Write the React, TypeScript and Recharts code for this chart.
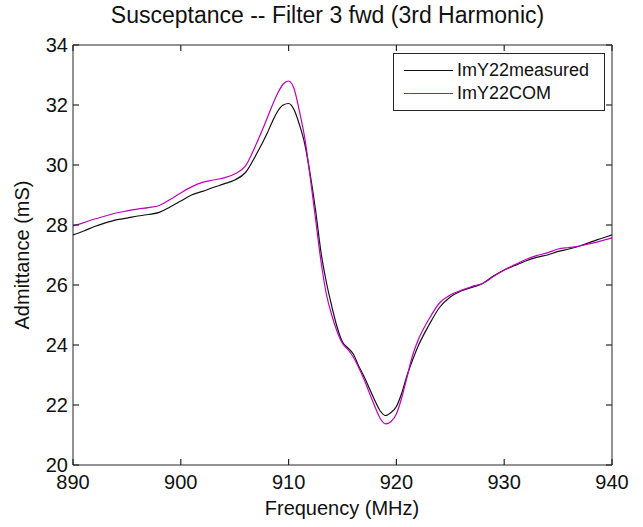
import React from 'react';
import { LineChart, Line, XAxis, YAxis, Legend } from 'recharts';

const freqs = [
  890, 891, 892, 893, 894, 895, 896, 897, 898, 899, 900, 901, 902, 903, 904, 905, 906, 907, 908,
  908.5, 909, 909.5, 910, 910.5, 911, 911.5, 912, 912.5, 913, 913.5, 914, 914.5, 915, 915.5, 916,
  916.5, 917, 917.5, 918, 918.5, 919, 919.5, 920, 920.5, 921, 921.5, 922, 923, 924, 925, 926, 927,
  928, 929, 930, 931, 932, 933, 934, 935, 936, 937, 938, 939, 940,
];

const measured = [
  27.67, 27.8, 27.95, 28.07, 28.17, 28.23, 28.3, 28.35, 28.42, 28.6, 28.8, 29.0, 29.12, 29.25, 29.37,
  29.5, 29.75, 30.35, 31.05, 31.45, 31.8, 32.0, 32.05, 31.85, 31.35, 30.7, 29.7, 28.5, 27.1, 26.1,
  25.3, 24.6, 24.1, 23.9, 23.7, 23.3, 22.95, 22.55, 22.15, 21.8, 21.65, 21.75, 21.95, 22.4, 23.0,
  23.5, 23.95, 24.65, 25.25, 25.6, 25.8, 25.92, 26.05, 26.3, 26.5, 26.65, 26.8, 26.92, 27.0, 27.12,
  27.2, 27.3, 27.43, 27.55, 27.67,
];

const com = [
  27.97, 28.08, 28.2, 28.3, 28.4, 28.47, 28.53, 28.58, 28.65, 28.85, 29.07, 29.27, 29.42, 29.5,
  29.57, 29.7, 29.97, 30.7, 31.55, 32.0, 32.4, 32.7, 32.8, 32.55, 31.8, 30.9, 29.6, 28.2, 26.8, 25.7,
  25.0, 24.45, 24.05, 23.85, 23.6, 23.25, 22.85, 22.4, 21.95, 21.55, 21.37, 21.45, 21.7, 22.25,
  22.95, 23.65, 24.15, 24.85, 25.4, 25.67, 25.82, 25.95, 26.05, 26.28, 26.5, 26.68, 26.85, 26.98,
  27.07, 27.2, 27.25, 27.3, 27.38, 27.47, 27.57,
];

const xTicks = [890, 900, 910, 920, 930, 940];
const yTicks = [20, 22, 24, 26, 28, 30, 32, 34];

const seriesNames = ['ImY22measured', 'ImY22COM'];
const seriesColors = ['#111111', '#c000c0'];

const data = freqs.map((f, i) => ({ f, measured: measured[i], com: com[i] }));

const font = '"Liberation Sans", Arial, sans-serif';
const axisColor = '#262626';

const margin = { top: 45, right: 31, bottom: 32, left: 23 };
const chartW = 643;
const chartH = 527;
const xAxisH = 30;
const yAxisW = 50;
const plotW = chartW - margin.left - margin.right - yAxisW;
const plotH = chartH - margin.top - margin.bottom - xAxisH;
const xGap = 9;
const yGap = 5;
const tickLen = 6;

// MATLAB-style: label outside, short tick marks inside on both opposite sides
const XTick = (props: any) => {
  const { x, y, payload } = props;
  const base = y - xGap;
  return (
    <g>
      <line x1={x} y1={base} x2={x} y2={base - tickLen} stroke={axisColor} strokeWidth={1.2} />
      <line x1={x} y1={base - plotH} x2={x} y2={base - plotH + tickLen} stroke={axisColor} strokeWidth={1.2} />
      <text x={x} y={y} dy="0.75em" textAnchor="middle" fill="#111" fontSize={20} fontFamily={font}>
        {payload.value}
      </text>
    </g>
  );
};

const YTick = (props: any) => {
  const { x, y, payload } = props;
  const base = x + yGap;
  return (
    <g>
      <line x1={base} y1={y} x2={base + tickLen} y2={y} stroke={axisColor} strokeWidth={1.2} />
      <line x1={base + plotW} y1={y} x2={base + plotW - tickLen} y2={y} stroke={axisColor} strokeWidth={1.2} />
      <text x={x} y={y} dy="0.36em" textAnchor="end" fill="#111" fontSize={20} fontFamily={font}>
        {payload.value}
      </text>
    </g>
  );
};

function LegendBox() {
  return (
    <div
      style={{
        width: 210,
        height: 56,
        border: `1px solid ${axisColor}`,
        background: '#fff',
        fontFamily: font,
        fontSize: 18,
        color: '#111',
        boxSizing: 'content-box',
      }}
    >
      {seriesNames.map((name, i) => (
        <div key={name} style={{ display: 'flex', alignItems: 'center', height: 23, marginTop: i === 0 ? 5 : 0 }}>
          <div style={{ width: 49, height: 0, borderTop: `1px solid ${seriesColors[i]}`, marginLeft: 10, marginRight: 4 }} />
          <span>{name}</span>
        </div>
      ))}
    </div>
  );
}

export default function App() {
  return (
    <div style={{ position: 'absolute', left: 0, top: 0, width: chartW, height: chartH, background: '#fff' }}>
      <div
        style={{
          position: 'absolute',
          left: 6,
          top: 2,
          width: chartW,
          textAlign: 'center',
          fontFamily: font,
          fontSize: 23,
          color: '#111',
        }}
      >
        Susceptance -- Filter 3 fwd (3rd Harmonic)
      </div>
      <LineChart width={chartW} height={chartH} data={data} margin={margin}>
        <XAxis
          dataKey="f"
          type="number"
          domain={[890, 940]}
          ticks={xTicks}
          allowDataOverflow
          interval={0}
          height={xAxisH}
          tickLine={false}
          tickSize={0}
          tickMargin={xGap}
          stroke={axisColor}
          tick={<XTick />}
        />
        <XAxis
          xAxisId="top"
          dataKey="f"
          type="number"
          domain={[890, 940]}
          ticks={xTicks}
          allowDataOverflow
          orientation="top"
          mirror
          height={5}
          tick={false}
          tickLine={false}
          stroke={axisColor}
        />
        <YAxis
          type="number"
          domain={[20, 34]}
          ticks={yTicks}
          allowDataOverflow
          interval={0}
          width={yAxisW}
          tickLine={false}
          tickSize={0}
          tickMargin={yGap}
          stroke={axisColor}
          tick={<YTick />}
        />
        <YAxis
          yAxisId="right"
          type="number"
          domain={[20, 34]}
          ticks={yTicks}
          allowDataOverflow
          orientation="right"
          mirror
          width={5}
          tick={false}
          tickLine={false}
          stroke={axisColor}
        />
        <Legend
          layout="vertical"
          align="center"
          verticalAlign="middle"
          content={<LegendBox />}
          wrapperStyle={{ left: 393, top: 53, width: 212, height: 58 }}
        />
        <Line
          type="monotone"
          dataKey="measured"
          name={seriesNames[0]}
          stroke={seriesColors[0]}
          strokeWidth={1.2}
          dot={false}
          isAnimationActive={false}
        />
        <Line
          type="monotone"
          dataKey="com"
          name={seriesNames[1]}
          stroke={seriesColors[1]}
          strokeWidth={1.2}
          dot={false}
          isAnimationActive={false}
        />
      </LineChart>
      <svg
        width={chartW}
        height={chartH}
        style={{ position: 'absolute', left: 0, top: 0, pointerEvents: 'none' }}
      >
        <text
          x={342}
          y={508}
          textAnchor="middle"
          dominantBaseline="central"
          fontFamily={font}
          fontSize={20}
          fill="#111"
        >
          Frequency (MHz)
        </text>
        <text
          x={22}
          y={255}
          textAnchor="middle"
          dominantBaseline="central"
          fontFamily={font}
          fontSize={20}
          fill="#111"
          transform="rotate(-90 22 255)"
        >
          Admittance (mS)
        </text>
      </svg>
    </div>
  );
}
